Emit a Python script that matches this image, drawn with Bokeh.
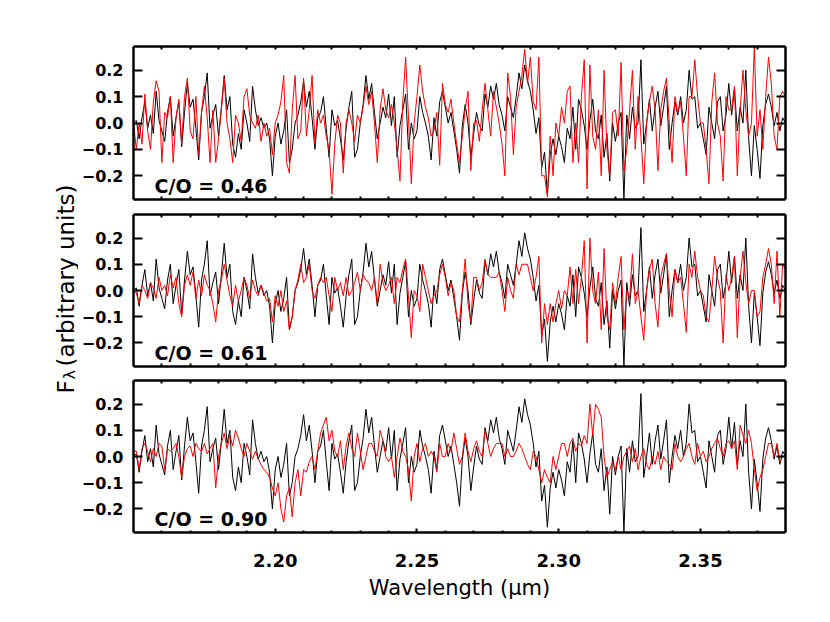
import numpy as np
from bokeh.plotting import figure
from bokeh.models import Label, LinearAxis, FixedTicker, NumeralTickFormatter, Range1d
from bokeh.layouts import row, column
from bokeh.embed import file_html
from bokeh.resources import INLINE

# ---------------- data ----------------
wl_start = 2.150   # micron, first sample
wl_step = 0.001    # micron, sampling step

observed = [
    0.0, 0.01, -0.06, 0.02, 0.08, -0.02, 0.03, -0.04, 0.12, 0.01,
    -0.03, -0.07, 0.04, 0.1, -0.05, 0.02, 0.08, -0.09, 0.04, 0.15,
    0.06, 0.09, -0.02, -0.14, 0.04, 0.1, 0.19, -0.02, 0.03, 0.07,
    -0.05, 0.06, 0.18, 0.05, 0.1, -0.08, -0.13, -0.04, -0.1, 0.05,
    0.0, -0.07, 0.14, 0.05, -0.01, 0.02, -0.02, 0.0, -0.06, -0.2,
    -0.05, 0.0, -0.08, -0.03, 0.05, -0.15, -0.1, 0.0, 0.03, 0.08,
    0.16, 0.06, 0.12, 0.02, -0.1, 0.02, 0.04, 0.1, -0.02, -0.13,
    0.05, -0.01, 0.01, -0.06, -0.14, -0.02, 0.06, 0.12, -0.13, -0.1,
    0.0, 0.07, 0.18, 0.09, 0.15, 0.04, -0.06, 0.0, 0.06, 0.02,
    0.11, -0.01, 0.1, -0.13, -0.01, 0.05, 0.11, -0.1, 0.0, -0.06,
    -0.03, 0.1, 0.04, 0.0, -0.05, -0.14, 0.02, -0.05, 0.08, 0.12,
    0.06, 0.0, 0.04, -0.03, -0.1, -0.19, -0.01, 0.07, 0.0, -0.13,
    -0.04, 0.04, -0.01, -0.03, 0.11, 0.06, 0.14, 0.09, 0.15, 0.07,
    0.03, -0.03, 0.1, 0.06, 0.02, 0.1, 0.19, 0.13, 0.22, 0.16,
    0.12, 0.05, -0.04, 0.02, -0.17, -0.11, -0.27, -0.12, -0.06, -0.12,
    -0.05, -0.09, -0.15, -0.02, -0.06, 0.06, -0.1, 0.09, 0.05, -0.01,
    -0.1, 0.01, 0.09, -0.03, -0.06, 0.03, -0.13, -0.04, -0.22, 0.0,
    -0.07, 0.0, 0.04, -0.29, 0.03, -0.06, 0.06, -0.02, 0.0, 0.24,
    -0.08, 0.0, 0.09, -0.03, 0.06, 0.12, -0.01, 0.06, 0.14, -0.1,
    0.0, 0.08, 0.03, 0.1, 0.0, 0.05, 0.2, 0.09, 0.1, -0.02,
    0.0, -0.06, -0.12, 0.06, 0.0, -0.06, 0.08, 0.1, -0.03, 0.03,
    0.15, 0.03, 0.13, -0.03, 0.06, 0.0, 0.2, -0.06, -0.2, -0.01,
    -0.1, -0.21, -0.01, 0.07, 0.11, 0.06, -0.01, 0.04, -0.03, 0.02, 0.0,
]

model_co_046 = [
    0.0, -0.1, 0.0, -0.08, 0.11, -0.03, -0.1, 0.08, 0.16, 0.12,
    -0.15, 0.04, 0.02, 0.1, -0.15, 0.02, 0.09, -0.08, 0.1, 0.17,
    -0.03, -0.06, 0.1, -0.12, 0.04, 0.14, 0.02, -0.15, 0.05, -0.15,
    -0.06, 0.05, 0.17, 0.0, -0.06, -0.15, 0.03, 0.0, -0.07, 0.1,
    0.13, 0.03, 0.0, -0.02, 0.03, -0.07, 0.0, -0.05, -0.02, -0.12,
    0.0, 0.03, 0.08, 0.18, -0.15, -0.19, 0.05, 0.18, -0.06, -0.03,
    0.17, -0.05, 0.05, 0.18, -0.08, 0.05, 0.0, 0.03, -0.05, -0.1,
    -0.27, -0.08, 0.03, 0.0, -0.19, 0.0, 0.05, 0.0, -0.07, 0.03,
    0.0, 0.06, 0.14, 0.07, 0.12, 0.0, -0.15, 0.05, 0.13, 0.05,
    0.02, 0.07, 0.0, -0.1, -0.22, 0.08, 0.25, 0.02, -0.23, 0.0,
    0.1, 0.22, 0.12, 0.06, 0.02, -0.05, -0.03, 0.04, -0.16, 0.15,
    0.07, 0.04, 0.09, 0.0, -0.08, -0.15, -0.05, 0.05, 0.12, -0.18,
    0.0, 0.01, -0.07, 0.05, 0.15, 0.05, -0.05, 0.12, 0.06, 0.0,
    -0.08, -0.2, 0.19, 0.1, -0.12, 0.06, 0.12, 0.18, 0.28, 0.15,
    0.25, 0.08, 0.05, 0.25, -0.2, -0.2, -0.28, -0.05, -0.2, 0.0,
    -0.05, 0.06, 0.0, 0.12, 0.14, -0.15, 0.0, -0.15, 0.1, 0.24,
    -0.25, 0.22, -0.05, -0.1, 0.05, -0.2, 0.2, -0.1, -0.2, 0.04,
    0.05, -0.05, 0.23, -0.18, -0.1, 0.05, 0.2, -0.1, 0.1, -0.05,
    -0.23, 0.0, 0.08, 0.14, 0.05, -0.18, 0.05, 0.12, 0.17, 0.0,
    -0.15, 0.1, 0.04, 0.08, -0.05, -0.2, 0.1, 0.1, 0.24, 0.1,
    0.0, 0.0, -0.1, -0.23, 0.08, 0.19, 0.0, -0.05, -0.22, 0.1,
    0.05, 0.05, 0.14, -0.2, 0.05, 0.2, 0.05, -0.05, 0.0, 0.29,
    -0.05, 0.05, -0.1, 0.1, 0.25, 0.15, -0.05, -0.1, 0.1, 0.12, 0.1,
]

model_co_061 = [
    0.0, -0.01, -0.05, 0.02, 0.0, -0.03, 0.03, 0.01, -0.03, 0.05,
    0.0, 0.02, -0.02, 0.06, 0.01, 0.05, -0.05, -0.1, 0.02, 0.06,
    0.02, 0.07, -0.03, 0.04, -0.02, 0.06, 0.02, 0.0, -0.05, -0.12,
    0.0, 0.04, 0.1, 0.04, -0.02, -0.06, 0.02, -0.04, 0.0, 0.05,
    0.02, -0.03, 0.04, 0.0, -0.02, 0.02, -0.01, -0.04, -0.03, -0.12,
    -0.02, -0.06, 0.0, -0.08, -0.04, -0.15, -0.1, 0.0, 0.04, 0.1,
    0.03, 0.05, 0.1, 0.0, -0.03, 0.02, 0.05, 0.03, 0.05, -0.02,
    -0.08, 0.05, 0.0, 0.03, -0.02, 0.05, -0.02, 0.0, 0.03, 0.07,
    0.0, 0.06, 0.04, 0.03, 0.0, 0.05, -0.05, 0.1, 0.03, 0.0,
    0.02, 0.05, -0.05, 0.05, 0.03, 0.08, 0.12, -0.02, -0.18, 0.0,
    -0.02, -0.08, 0.1, 0.05, 0.0, -0.05, -0.02, 0.0, 0.06, 0.1,
    0.05, -0.02, 0.03, 0.0, -0.1, -0.12, 0.0, 0.12, -0.05, -0.12,
    0.05, 0.05, 0.0, 0.03, 0.12, 0.06, 0.05, 0.05, 0.05, 0.07,
    0.0, -0.08, 0.05, 0.0, -0.03, 0.1, 0.06, 0.1, 0.1, 0.1,
    0.05, 0.0, 0.05, 0.13, -0.2, -0.05, -0.13, -0.05, -0.12, -0.05,
    0.0, -0.07, 0.0, -0.02, 0.09, -0.05, 0.08, -0.05, 0.05, 0.19,
    -0.2, 0.2, 0.0, -0.05, 0.07, -0.15, 0.16, -0.1, -0.15, 0.03,
    -0.05, 0.05, 0.13, -0.15, 0.0, -0.03, 0.14, -0.05, 0.0, -0.1,
    -0.19, 0.0, 0.08, 0.12, -0.05, -0.14, 0.05, 0.1, 0.14, 0.0,
    -0.1, 0.08, 0.03, 0.05, -0.05, -0.16, 0.1, 0.05, 0.15, 0.05,
    0.0, -0.02, -0.1, -0.12, 0.0, 0.13, 0.05, 0.0, -0.2, 0.06,
    0.0, 0.05, 0.13, -0.18, 0.05, 0.15, 0.03, -0.05, 0.0, 0.0,
    -0.1, -0.08, 0.05, 0.1, 0.16, 0.1, -0.05, 0.15, -0.1, 0.1, 0.08,
]

model_co_090 = [
    0.02, 0.02, -0.05, 0.03, 0.05, 0.02, -0.02, 0.03, 0.0, 0.05,
    0.04, -0.05, 0.03, 0.02, 0.03, 0.05, 0.0, -0.08, 0.0, 0.03,
    0.04, 0.0, 0.05, 0.03, 0.02, 0.05, 0.01, 0.03, 0.05, -0.12,
    0.0, 0.05, 0.09, 0.03, 0.08, 0.04, 0.1, 0.07, 0.03, 0.0,
    0.05, 0.02, -0.01, 0.02, -0.01, -0.03, -0.05, -0.06, -0.08, -0.12,
    -0.15, -0.1, -0.2, -0.25, -0.15, -0.12, -0.23, -0.1, -0.05, -0.15,
    -0.05, -0.06, -0.02, 0.0, -0.05, 0.02, 0.09, 0.12, 0.15, 0.06,
    0.1, 0.02, 0.0, 0.06, -0.05, 0.04, 0.09, 0.03, 0.0, 0.09,
    0.02, -0.05, 0.0, 0.05, 0.05, 0.02, 0.0, 0.1, 0.06, 0.0,
    -0.02, 0.0, -0.08, 0.0, 0.07, 0.02, 0.0, -0.05, -0.17, 0.0,
    0.05, -0.02, 0.03, 0.05, 0.0, 0.02, 0.0, -0.06, 0.05, 0.0,
    0.0, 0.05, 0.02, 0.09, 0.03, -0.03, 0.0, 0.09, 0.02, -0.02,
    0.03, 0.06, 0.02, 0.0, 0.1, 0.05, 0.0, 0.03, 0.05, 0.05,
    0.05, 0.0, 0.03, 0.0, 0.0, 0.02, 0.05, 0.03, 0.0, -0.03,
    -0.05, 0.02, 0.0, -0.05, -0.1, -0.05, -0.08, -0.1, 0.0, -0.05,
    0.0, 0.05, 0.05, 0.0, 0.05, 0.07, 0.02, 0.05, 0.04, 0.08,
    0.05, 0.2, 0.08, 0.2, 0.18, 0.15, 0.0, -0.08, -0.05, -0.02,
    -0.05, 0.0, -0.05, 0.0, 0.02, 0.04, -0.02, 0.03, -0.05, 0.0,
    0.03, -0.03, -0.05, 0.0, -0.03, 0.02, -0.05, 0.0, -0.02, -0.03,
    -0.05, 0.05, 0.0, -0.02, 0.0, 0.03, 0.05, 0.0, -0.03, 0.05,
    0.0, 0.02, -0.02, 0.0, 0.03, 0.05, 0.07, 0.03, 0.0, 0.05,
    0.06, 0.03, 0.06, -0.05, 0.12, 0.08, 0.05, 0.1, 0.05, -0.05,
    -0.13, -0.08, -0.05, 0.0, 0.05, 0.05, 0.0, 0.05, -0.02, 0.0, 0.0,
]

panel_models = [model_co_046, model_co_061, model_co_090]
panel_labels = ["C/O = 0.46", "C/O = 0.61", "C/O = 0.90"]

x_ticks = [2.20, 2.25, 2.30, 2.35]
x_minor_ticks = [2.16, 2.17, 2.18, 2.19, 2.21, 2.22, 2.23, 2.24, 2.26, 2.27,
                 2.28, 2.29, 2.31, 2.32, 2.33, 2.34, 2.36, 2.37]
y_ticks = [-0.2, -0.1, 0.0, 0.1, 0.2]
y_tick_text = {-0.2: "\u22120.2", -0.1: "\u22120.1"}
x_limits = (2.15, 2.38)
y_limits = (-0.29, 0.29)

x_title = "Wavelength (\u03bcm)"
y_title_main = "F"
y_title_sub = "\u03bb"
y_title_rest = "(arbitrary units)"

# ---------------- styling ----------------
FONT = "DejaVu Sans"
LEFT, RIGHT = 53, 37
FIG_W = 744
STRIP_W = 78


def wavelengths(values):
    return wl_start + wl_step * np.arange(len(values))


def base_axis(ax):
    ax.axis_line_width = 2.5
    ax.axis_line_color = "black"
    ax.major_tick_out = 0
    ax.minor_tick_out = 0
    ax.major_tick_line_width = 2
    ax.minor_tick_line_width = 2
    ax.major_label_text_font = FONT
    ax.major_label_text_font_style = "bold"
    ax.major_label_text_color = "black"
    ax.major_label_text_font_size = "16px"


def ticks_only_axis(all_ticks, length):
    # mirrored / unlabelled axis: every tick drawn as a minor tick, no labels
    ax = LinearAxis(ticker=FixedTicker(ticks=[], minor_ticks=all_ticks))
    base_axis(ax)
    ax.minor_tick_in = length
    ax.major_tick_in = 0
    ax.major_label_standoff = 0
    return ax


def make_panel(model, label, height, top, bottom, show_x):
    p = figure(width=FIG_W, height=height,
               x_range=Range1d(*x_limits), y_range=Range1d(*y_limits),
               x_axis_type=None, y_axis_type=None,
               output_backend="svg", toolbar_location=None,
               min_border_left=LEFT, min_border_right=RIGHT,
               min_border_top=top, min_border_bottom=bottom,
               outline_line_color=None,
               background_fill_color="white", border_fill_color="white")
    p.line(wavelengths(observed), observed, line_color="black", line_width=1)
    p.line(wavelengths(model), model, line_color="#ff0000", line_width=1)

    # x axes
    if show_x:
        xb = LinearAxis(ticker=FixedTicker(ticks=x_ticks, minor_ticks=x_minor_ticks),
                        formatter=NumeralTickFormatter(format="0.00"))
        base_axis(xb)
        xb.major_label_text_font_size = "18px"
        xb.major_tick_in = 4
        xb.minor_tick_in = 2
        xb.major_label_standoff = 21
        xb.axis_label = x_title
        xb.axis_label_text_font = FONT
        xb.axis_label_text_font_size = "21px"
        xb.axis_label_text_font_style = "normal"
        xb.axis_label_text_color = "black"
        xb.axis_label_standoff = 6
    else:
        xb = ticks_only_axis(x_ticks + x_minor_ticks, 3)
    p.add_layout(xb, "below")
    p.add_layout(ticks_only_axis(x_ticks + x_minor_ticks, 3), "above")

    # y axes
    yl = LinearAxis(ticker=FixedTicker(ticks=y_ticks, minor_ticks=[]),
                    formatter=NumeralTickFormatter(format="0.0"))
    base_axis(yl)
    yl.major_tick_in = 9
    yl.major_label_standoff = 10
    yl.major_label_overrides = y_tick_text
    p.add_layout(yl, "left")
    p.add_layout(ticks_only_axis(y_ticks, 9), "right")

    p.add_layout(Label(x=21, y=14, x_units="screen", y_units="screen", text=label,
                       text_font=FONT, text_font_size="19px", text_font_style="bold",
                       text_color="black", text_baseline="alphabetic", text_align="left"))
    return p


f1 = make_panel(panel_models[0], panel_labels[0], 207, 46, 8, False)
f2 = make_panel(panel_models[1], panel_labels[1], 167, 7, 8, False)
f3 = make_panel(panel_models[2], panel_labels[2], 240, 6, 82, True)

# y-axis title, drawn in a narrow strip to the left of the three panels
lf = figure(width=STRIP_W, height=614, x_range=Range1d(0, 1), y_range=Range1d(0, 1),
            x_axis_type=None, y_axis_type=None, output_backend="svg",
            toolbar_location=None, min_border=0, outline_line_color=None,
            background_fill_color="white", border_fill_color="white")
ang = np.pi / 2
lf.add_layout(Label(x=65, y=221, x_units="screen", y_units="screen", angle=ang,
                    text=y_title_main, text_font=FONT, text_font_size="23px",
                    text_color="black", text_align="left", text_baseline="alphabetic"))
lf.add_layout(Label(x=69, y=235, x_units="screen", y_units="screen", angle=ang,
                    text=y_title_sub, text_font=FONT, text_font_size="16px",
                    text_color="black", text_align="left", text_baseline="alphabetic"))
lf.add_layout(Label(x=65, y=248, x_units="screen", y_units="screen", angle=ang,
                    text=y_title_rest, text_font=FONT, text_font_size="23px",
                    text_color="black", text_align="left", text_baseline="alphabetic"))

layout = row(lf, column(f1, f2, f3))

open("out.html", "w").write(file_html(layout, INLINE))
